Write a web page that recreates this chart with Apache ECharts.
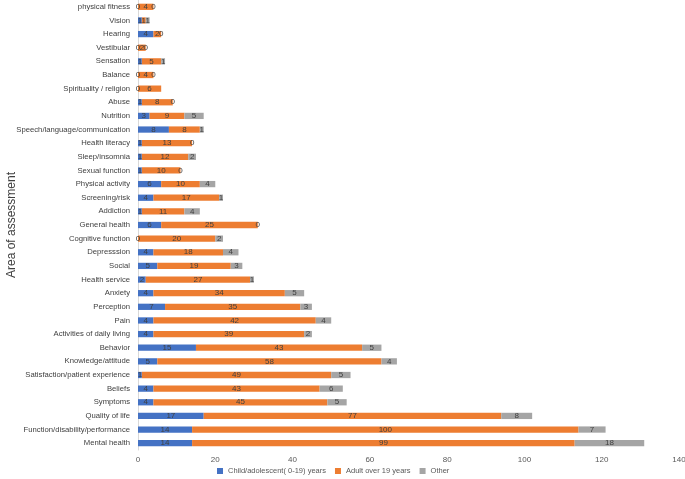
<!DOCTYPE html>
<html>
<head>
<meta charset="utf-8">
<script src="https://cdn.jsdelivr.net/npm/echarts@6/dist/echarts.min.js"></script>
<style>
  html, body { margin: 0; padding: 0; background: #fff; }
  #chart { width: 685px; height: 479px; }
</style>
</head>
<body>
<div id="chart"></div>
<script>
// top to bottom, as in the figure
const categories = [
  'physical fitness', 'Vision', 'Hearing', 'Vestibular', 'Sensation', 'Balance',
  'Spirituality / religion', 'Abuse', 'Nutrition', 'Speech/language/communication',
  'Health literacy', 'Sleep/insomnia', 'Sexual function', 'Physical activity',
  'Screening/risk', 'Addiction', 'General health', 'Cognitive function', 'Depresssion',
  'Social', 'Health service', 'Anxiety', 'Perception', 'Pain',
  'Activities of daily living', 'Behavior', 'Knowledge/attitude',
  'Satisfaction/patient experience', 'Beliefs', 'Symptoms', 'Quality of life',
  'Function/disability/performance', 'Mental health'
];
const childValues = [0, 1, 4, 0, 1, 0, 0, 1, 3, 8, 1, 1, 1, 6, 4, 1, 6, 0, 4, 5, 2, 4, 7, 4, 4, 15, 5, 1, 4, 4, 17, 14, 14];
const adultValues = [4, 1, 2, 2, 5, 4, 6, 8, 9, 8, 13, 12, 10, 10, 17, 11, 25, 20, 18, 19, 27, 34, 35, 42, 39, 43, 58, 49, 43, 45, 77, 100, 99];
const otherValues = [0, 1, 0, 0, 1, 0, '-', 0, 5, 1, 0, 2, 0, 4, 1, 4, 0, 2, 4, 3, 1, 5, 3, 4, 2, 5, 4, 5, 6, 5, 8, 7, 18];
const xTicks = [0, 20, 40, 60, 80, 100, 120, 140];

const font = "'Liberation Sans', Arial, sans-serif";
const chart = echarts.init(document.getElementById('chart'));

const makeSeries = (name, values, color) => ({
  name: name,
  type: 'bar',
  stack: 'total',
  barWidth: '46%',
  itemStyle: { color: color },
  label: {
    show: true,
    position: 'inside',
    color: '#404040',
    fontSize: 8,
    fontFamily: font
  },
  data: values
});

chart.setOption({
  animation: false,
  textStyle: { fontFamily: font },
  grid: { left: 138, right: 6, top: 0, bottom: 29, containLabel: false, outerBoundsMode: 'none' },
  legend: {
    bottom: -1,
    left: 212,
    itemWidth: 6,
    itemHeight: 6,
    itemGap: 9,
    icon: 'rect',
    textStyle: { fontSize: 7.5, color: '#595959', fontFamily: font },
    data: ['Child/adolescent( 0-19) years', 'Adult over 19 years', 'Other']
  },
  xAxis: {
    type: 'value',
    min: xTicks[0],
    max: xTicks[xTicks.length - 1],
    interval: 20,
    axisLine: { show: false },
    axisTick: { show: false },
    splitLine: { show: false },
    axisLabel: { fontSize: 8, color: '#595959', margin: 6, fontFamily: font }
  },
  yAxis: {
    type: 'category',
    inverse: true,
    data: categories,
    name: 'Area of assessment',
    nameLocation: 'middle',
    nameRotate: 90,
    nameGap: 120,
    nameMoveOverlap: false,
    nameTextStyle: { fontSize: 12, color: '#404040', fontFamily: font },
    axisLine: { show: true, lineStyle: { color: '#d9d9d9' } },
    axisTick: { show: false },
    axisLabel: { fontSize: 7.7, color: '#404040', margin: 8, fontFamily: font }
  },
  series: [
    makeSeries('Child/adolescent( 0-19) years', childValues, '#4472c4'),
    makeSeries('Adult over 19 years', adultValues, '#ed7d31'),
    makeSeries('Other', otherValues, '#a5a5a5')
  ]
});
</script>
</body>
</html>
